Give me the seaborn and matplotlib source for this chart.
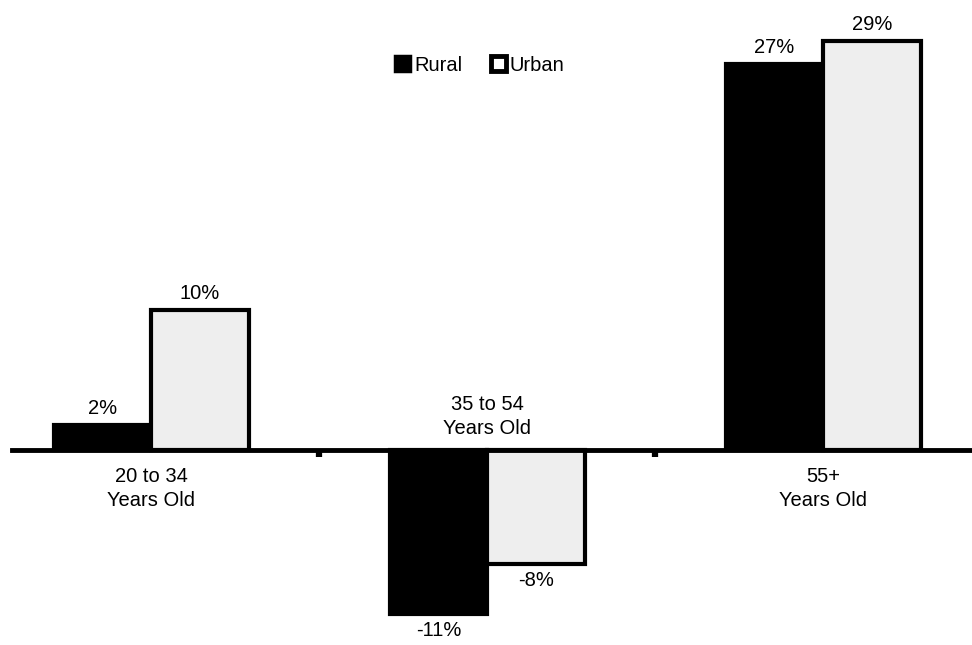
import seaborn as sns
import matplotlib.pyplot as plt
import pandas as pd
from matplotlib.patches import Patch

# chart data
age_groups = ["20 to 34\nYears Old", "35 to 54\nYears Old", "55+\nYears Old"]
rural = [1.8, -11.5, 27.2]
urban = [9.9, -8.0, 28.8]
rural_labels = ["2%", "-11%", "27%"]
urban_labels = ["10%", "-8%", "29%"]

data = pd.DataFrame({
    "group": age_groups * 2,
    "area": ["Rural"] * 3 + ["Urban"] * 3,
    "change": rural + urban,
})

sns.set_style("white")
plt.rcParams["font.family"] = ["Liberation Sans", "DejaVu Sans"]
plt.rcParams["text.color"] = "black"

fig = plt.figure(figsize=(9.72, 6.45), dpi=100)
ax = fig.add_axes([12 / 972, 0, 960 / 972, 1])

sns.barplot(data=data, x="group", y="change", hue="area",
            palette={"Rural": "black", "Urban": "#eeeeee"},
            edgecolor="black", linewidth=3, width=0.58, ax=ax,
            legend=False)

# value labels
for cont, labels in zip(ax.containers, [rural_labels, urban_labels]):
    ax.bar_label(cont, labels=labels, padding=5, fontsize=14.5)

ax.set_xlim(-0.414, 2.443)
ax.set_ylim(-13.7, 31.7)

# category labels, above the axis when the bars go down
for i, name in enumerate(age_groups):
    if min(rural[i], urban[i]) < 0:
        ax.annotate(name, (i, 0), xytext=(0, 9), textcoords="offset points",
                    ha="center", va="bottom", fontsize=14.5, linespacing=1.3)
    else:
        ax.annotate(name, (i, 0), xytext=(0, -12), textcoords="offset points",
                    ha="center", va="top", fontsize=14.5, linespacing=1.3)

# axis at zero
for side in ["top", "right", "left"]:
    ax.spines[side].set_visible(False)
ax.spines["bottom"].set_position(("data", 0))
ax.spines["bottom"].set_linewidth(3.5)
ax.spines["bottom"].set_color("black")
ax.set_xticks([0.5, 1.5])
ax.set_xticklabels([])
ax.tick_params(axis="x", direction="out", length=5, width=4.5, color="black", bottom=True)
ax.set_yticks([])
ax.set_xlabel("")
ax.set_ylabel("")

# legend
handles = [Patch(facecolor="black", edgecolor="black", linewidth=2.5, label="Rural"),
           Patch(facecolor="white", edgecolor="black", linewidth=3.5, label="Urban")]
ax.legend(handles=handles, loc="center", bbox_to_anchor=(0.4875, 0.899),
          ncol=2, frameon=False, fontsize=14.5, handlelength=0.75, handleheight=0.75,
          handletextpad=0.2, columnspacing=1.4)

plt.savefig("out.png", dpi=100)
